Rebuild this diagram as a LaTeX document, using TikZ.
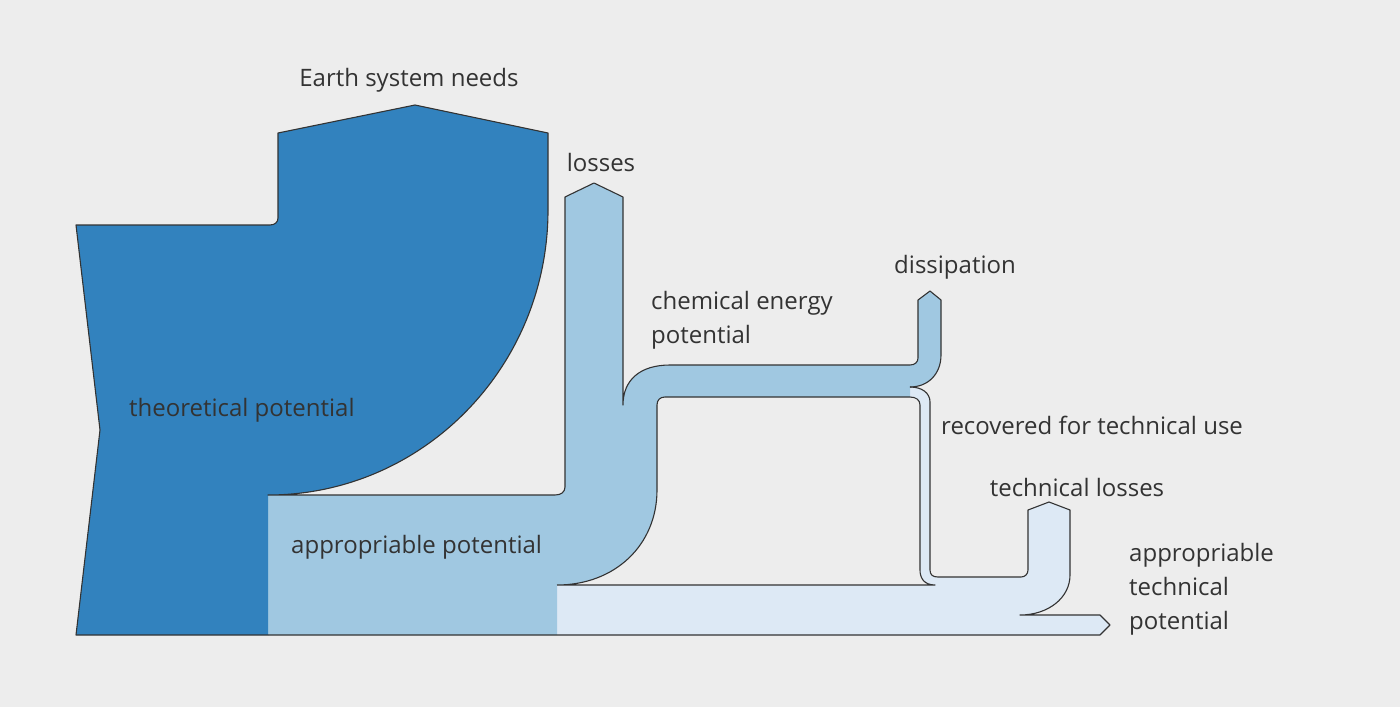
\documentclass[tikz,border=0pt]{standalone}
\usepackage{fontspec}
\setmainfont{Open Sans}
\begin{document}
\begin{tikzpicture}[x=1pt,y=-1pt,
  ol/.style={draw=black!80,line width=1.1pt,line join=round},
  lbl/.style={text=black!80,font=\fontsize{24}{34}\selectfont,inner sep=0pt},
  lbll/.style={lbl,anchor=west,align=left}]
\fill[black!7] (0,0) rectangle (1400,707);
\useasboundingbox (0,0) rectangle (1400,707);
\definecolor{dk}{HTML}{3282BE}
\definecolor{md}{HTML}{A0C8E1}
\definecolor{lt}{HTML}{DDE9F5}
% light region
\fill[lt] (557,585) -- (932,585) .. controls (924,585) and (920,578) .. (920,570) -- (920,405) .. controls (920,400) and (916,397) .. (910,397) -- (910,387) .. controls (922,387) and (930,393) .. (930,402) -- (930,570) .. controls (930,575) and (933,577) .. (938,577) -- (1021,577) .. controls (1025,577) and (1028,574) .. (1028,570) -- (1028,510) -- (1049,502) -- (1070,510) -- (1070,575) .. controls (1070,598) and (1048,615) .. (1020,615) -- (1100,615) -- (1110,625) -- (1100,635) -- (557,635) -- cycle;
% medium region
\fill[md] (268,495) -- (555,495) .. controls (561,495) and (565,492) .. (565,487) -- (565,197) -- (594,183) -- (623,197) -- (623,405) .. controls (623,380) and (640,365) .. (670,365) -- (910,365) .. controls (915,365) and (918,362) .. (918,358) -- (918,300) -- (930,291) -- (941,300) -- (941,355) .. controls (941,374) and (928,387) .. (910,387) -- (910,397) -- (665,397) .. controls (660,397) and (657,400) .. (657,405) -- (657,490) .. controls (657,545) and (615,585) .. (557,585) -- (557,635) -- (268,635) -- cycle;
% dark region
\fill[dk] (76,225) -- (270,225) .. controls (275,225) and (278,222) .. (278,218) -- (278,133) -- (415,105) -- (548,133) -- (548,210) .. controls (548,367) and (423,495) .. (268,495) -- (268,635) -- (76,635) -- (100,430) -- cycle;
% outlines
\draw[ol] (268,635) -- (76,635) -- (100,430) -- (76,225) -- (270,225) .. controls (275,225) and (278,222) .. (278,218) -- (278,133) -- (415,105) -- (548,133) -- (548,210) .. controls (548,367) and (423,495) .. (268,495) -- (555,495) .. controls (561,495) and (565,492) .. (565,487) -- (565,197) -- (594,183) -- (623,197) -- (623,405) .. controls (623,380) and (640,365) .. (670,365) -- (910,365) .. controls (915,365) and (918,362) .. (918,358) -- (918,300) -- (930,291) -- (941,300) -- (941,355) .. controls (941,374) and (928,387) .. (910,387);
\draw[ol] (910,387) .. controls (922,387) and (930,393) .. (930,402) -- (930,570) .. controls (930,575) and (933,577) .. (938,577) -- (1021,577) .. controls (1025,577) and (1028,574) .. (1028,570) -- (1028,510) -- (1049,502) -- (1070,510) -- (1070,575) .. controls (1070,598) and (1048,615) .. (1020,615) -- (1100,615) -- (1110,625) -- (1100,635) -- (268,635);
\draw[ol] (557,585) .. controls (615,585) and (657,545) .. (657,490) -- (657,405) .. controls (657,400) and (660,397) .. (665,397) -- (910,397) .. controls (916,397) and (920,400) .. (920,405) -- (920,570) .. controls (920,578) and (924,585) .. (935,585) -- (557,585);
% labels
\node[lbl] (esn) at (409,80) {Earth system needs};
\node[lbl] (los) at (601,162) {losses};
\node[lbll] (che) at (651,320) {chemical energy\\potential};
\node[lbl] (dis) at (955,267) {dissipation};
\node[lbll] (rec) at (941,425) {recovered for technical use};
\node[lbl] (tl) at (1077,487) {technical losses};
\node[lbll] (atp) at (1129,589) {appropriable\\technical\\potential};
\node[lbll] (tp) at (129,410) {theoretical potential};
\node[lbll] (ap) at (291,547) {appropriable potential};
\end{tikzpicture}
\end{document}
